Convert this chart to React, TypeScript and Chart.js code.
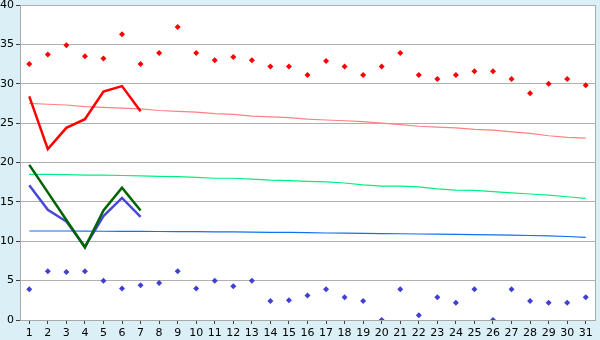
import React, { useEffect, useRef } from "react";
import { Chart, registerables } from "chart.js";

Chart.register(...registerables);

const days = ["1","2","3","4","5","6","7","8","9","10","11","12","13","14","15","16","17","18","19","20","21","22","23","24","25","26","27","28","29","30","31"];

const highPoints = [32.5,33.7,34.9,33.5,33.2,36.3,32.5,33.9,37.2,33.9,33.0,33.4,33.0,32.2,32.2,31.1,32.9,32.2,31.1,32.2,33.9,31.1,30.6,31.1,31.6,31.6,30.6,28.8,30.0,30.6,29.8];
const lowPoints = [3.9,6.2,6.1,6.2,5.0,4.0,4.4,4.7,6.2,4.0,5.0,4.3,5.0,2.4,2.5,3.1,3.9,2.9,2.4,0.0,3.9,0.6,2.9,2.2,3.9,0.0,3.9,2.4,2.2,2.2,2.9];

const redLine = [28.4,21.7,24.4,25.5,29.0,29.7,26.5];
const greenLine = [19.7,16.2,12.7,9.2,13.9,16.8,13.9];
const blueLine = [17.1,14.0,12.5,9.3,13.2,15.5,13.1];

const pinkTrend = [27.5,27.4,27.3,27.1,27.0,26.9,26.8,26.6,26.5,26.4,26.2,26.1,25.9,25.8,25.7,25.5,25.4,25.3,25.2,25.0,24.8,24.6,24.5,24.4,24.2,24.1,23.9,23.7,23.4,23.2,23.1];
const greenTrend = [18.5,18.5,18.45,18.4,18.4,18.35,18.3,18.25,18.2,18.1,18.0,18.0,17.9,17.75,17.7,17.6,17.55,17.4,17.15,17.0,17.0,16.9,16.65,16.5,16.45,16.3,16.15,16.0,15.85,15.65,15.45];
const blueTrend = [11.3,11.3,11.3,11.28,11.27,11.26,11.25,11.24,11.23,11.22,11.2,11.18,11.15,11.13,11.12,11.1,11.05,11.02,11.0,10.98,10.95,10.92,10.9,10.88,10.85,10.8,10.77,10.73,10.68,10.6,10.5];

const yTicks = [0, 5, 10, 15, 20, 25, 30, 35, 40];

const bgPlugin = {
  id: "bgPlugin",
  beforeDraw(chart: any) {
    const { ctx, chartArea } = chart;
    ctx.save();
    ctx.fillStyle = "#daf0f6";
    ctx.fillRect(0, 0, chart.width, chart.height);
    ctx.fillStyle = "#ffffff";
    ctx.fillRect(chartArea.left, chartArea.top, chartArea.right - chartArea.left, chartArea.bottom - chartArea.top);
    ctx.restore();
  },
  beforeDatasetsDraw(chart: any) {
    const { ctx, chartArea } = chart;
    ctx.save();
    ctx.strokeStyle = "#a8a8a8";
    ctx.lineWidth = 1;
    ctx.beginPath();
    ctx.moveTo(Math.round(chartArea.right) + 0.5, chartArea.top);
    ctx.lineTo(Math.round(chartArea.right) + 0.5, chartArea.bottom);
    ctx.stroke();
    ctx.restore();
  },
};

export default function App() {
  const ref = useRef<HTMLCanvasElement | null>(null);
  useEffect(() => {
    document.body.style.margin = "0";
    const canvas = ref.current;
    if (!canvas) return;
    const font = { family: "'DejaVu Sans', sans-serif", size: 11 };
    const chart = new Chart(canvas, {
      type: "line",
      data: {
        labels: days,
        datasets: [
          { label: "high", data: highPoints, showLine: false, pointStyle: "rectRot", pointRadius: 3, borderWidth: 0, backgroundColor: "#ff0000", borderColor: "#ff0000", order: 1 },
          { label: "low", data: lowPoints, showLine: false, pointStyle: "rectRot", pointRadius: 3, borderWidth: 0, backgroundColor: "#4040d0", borderColor: "#4040d0", order: 1 },
          { label: "red", data: redLine, borderColor: "#ff0000", borderWidth: 2.5, pointRadius: 0, order: 2 },
          { label: "darkgreen", data: greenLine, borderColor: "#006400", borderWidth: 2.5, pointRadius: 0, order: 3 },
          { label: "blue", data: blueLine, borderColor: "#4848d8", borderWidth: 2.5, pointRadius: 0, order: 4 },
          { label: "pink", data: pinkTrend, borderColor: "#ff8080", borderWidth: 1.2, pointRadius: 0, order: 5 },
          { label: "spring", data: greenTrend, borderColor: "#00f080", borderWidth: 1.2, pointRadius: 0, order: 5 },
          { label: "bluetrend", data: blueTrend, borderColor: "#1070f0", borderWidth: 1.2, pointRadius: 0, order: 5 },
        ],
      },
      options: {
        responsive: false,
        animation: false,
        layout: { padding: { left: 0, right: 5, top: 5, bottom: 0 } },
        plugins: { legend: { display: false }, tooltip: { enabled: false } },
        scales: {
          x: {
            offset: true,
            grid: { drawOnChartArea: false, drawTicks: true, tickLength: 4, color: "#404040", offset: false },
            border: { color: "#a8a8a8" },
            ticks: { font, color: "#000000", padding: 3, autoSkip: false, maxRotation: 0 },
            afterFit(scale: any) { scale.height = 20; scale.paddingLeft = 0; scale.paddingRight = 0; },
          },
          y: {
            min: 0,
            max: 40,
            afterBuildTicks(scale: any) { scale.ticks = yTicks.map((v) => ({ value: v })); },
            grid: { color: "#b0b0b0", tickLength: 4, tickColor: "#404040" },
            border: { color: "#a8a8a8" },
            ticks: { font, color: "#000000", padding: 2 },
            afterFit(scale: any) { scale.width = 20; scale.paddingTop = 0; scale.paddingBottom = 0; },
          },
        },
      },
      plugins: [bgPlugin],
    } as any);
    return () => chart.destroy();
  }, []);
  return <canvas ref={ref} width={600} height={340} />;
}
